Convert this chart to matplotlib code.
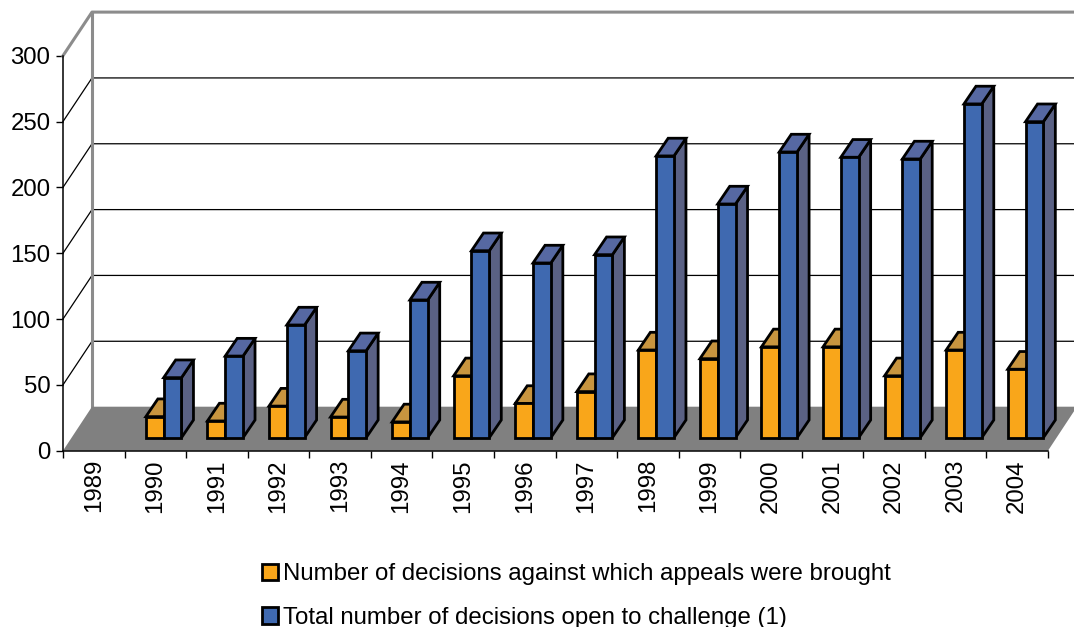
import matplotlib
matplotlib.use('Agg')
import matplotlib.pyplot as plt
from matplotlib.patches import Polygon, Patch

plt.rcParams['font.family'] = ['Liberation Sans', 'DejaVu Sans']

years = ['1989', '1990', '1991', '1992', '1993', '1994', '1995', '1996',
         '1997', '1998', '1999', '2000', '2001', '2002', '2003', '2004']
appeals = [None, 16, 12.7, 24, 15.7, 12, 47, 26, 35, 66.6, 60, 69, 69, 47, 66.6, 52]
decisions = [None, 45.6, 62, 85.6, 66, 104.6, 142, 132.7, 139, 214, 177.5, 217, 213, 211.7, 253.5, 240]
yticks = [0, 50, 100, 150, 200, 250, 300]
labels = ['Number of decisions against which appeals were brought',
          'Total number of decisions open to challenge (1)']

W, H = 1074, 627
LEFT, RIGHT, TOP, BOTTOM = 63, 1048, 55.7, 450.7
# pixels per data unit
PX = (RIGHT - LEFT) / 16
PY = (BOTTOM - TOP) / 300

ORANGE = ('#F9A61A', '#C8953F', '#8F6A2A')
BLUE = ('#3F69B0', '#5668A2', '#5A6184')
GREY = '#8C8C8C'
FLOOR = '#808080'
FONT = 17.25

fig = plt.figure(figsize=(W / 100, H / 100), dpi=100)
ax = fig.add_axes([LEFT / W, 1 - BOTTOM / H, (RIGHT - LEFT) / W, (BOTTOM - TOP) / H])
ax.set_xlim(0, 16)
ax.set_ylim(0, 300)


def off(x, y, dx_px=0, dy_px=0):
    return (x + dx_px / PX, y + dy_px / PY)


def box(x0, width, h, colors, z):
    # front plane of the bar sits a bit behind the chart front
    sx, sy = 8.8, 13
    dx, dy = 12, 17.7
    a = off(x0, 0, sx, sy)
    b = off(x0 + width, 0, sx, sy)
    c = off(x0 + width, h, sx, sy)
    d = off(x0, h, sx, sy)
    top = [d, c, off(c[0], c[1], dx, dy), off(d[0], d[1], dx, dy)]
    side = [b, c, off(c[0], c[1], dx, dy), off(b[0], b[1], dx, dy)]
    for pts, col in ((side, colors[2]), (top, colors[1]), ([a, b, c, d], colors[0])):
        ax.add_patch(Polygon(pts, closed=True, facecolor=col, edgecolor='black',
                             linewidth=2.0, joinstyle='miter', clip_on=False, zorder=z))


# back wall and gridlines
DEPTH_X, DEPTH_Y = 29, 44
for v in yticks[1:-1]:
    ax.plot(*zip((0, v), off(0, v, DEPTH_X, DEPTH_Y - 0.4), off(17, v, DEPTH_X, DEPTH_Y - 0.4)),
            color='black', lw=0.9, clip_on=False, zorder=1)
ax.plot(*zip((0, 300), off(0, 300, DEPTH_X, DEPTH_Y - 0.4), off(17, 300, DEPTH_X, DEPTH_Y - 0.4)),
        color=GREY, lw=2.2, clip_on=False, zorder=2)
ax.plot(*zip(off(0, 0, DEPTH_X, DEPTH_Y), off(0, 300, DEPTH_X, DEPTH_Y - 0.4)),
        color=GREY, lw=2.2, clip_on=False, zorder=2)
ax.add_patch(Polygon([(0, 0), (16, 0), off(16, 0, DEPTH_X, DEPTH_Y), off(0, 0, DEPTH_X, DEPTH_Y)],
                     closed=True, facecolor=FLOOR, edgecolor='none', clip_on=False, zorder=3))

# bars
BAR_W = 17.8 / PX
MARGIN = 12.5 / PX
for i in range(1, len(years)):
    x0 = i + MARGIN
    box(x0, BAR_W, appeals[i], ORANGE, 4 + i)
    box(x0 + BAR_W, BAR_W, decisions[i], BLUE, 4 + i + 0.5)

# axes
ax.patch.set_visible(False)
ax.spines['top'].set_visible(False)
ax.spines['right'].set_visible(False)
ax.spines['left'].set_zorder(30)
ax.spines['bottom'].set_zorder(30)
ax.spines['left'].set_linewidth(1.1)
ax.spines['bottom'].set_linewidth(1.1)
ax.set_yticks(yticks)
ax.set_xticks(range(17))
ax.set_xticklabels([])
ax.set_xticks([i + 0.5 for i in range(16)], labels=years, minor=True, rotation=90)
ax.tick_params(axis='x', which='major', length=5, width=1)
ax.tick_params(axis='x', which='minor', length=0, pad=6, labelsize=FONT)
ax.tick_params(axis='y', length=5, width=1, pad=4, labelsize=FONT)

handles = [Patch(facecolor=ORANGE[0], edgecolor='black', linewidth=2.0),
           Patch(facecolor=BLUE[0], edgecolor='black', linewidth=2.0)]
fig.legend(handles, labels, loc='upper left', bbox_to_anchor=(255 / W, 1 - 556 / H),
           frameon=False, fontsize=FONT, ncol=1, handlelength=0.68, handleheight=0.68,
           handletextpad=0.2, labelspacing=0.9, borderpad=0.3, borderaxespad=0)

fig.savefig('out.png', dpi=100)
